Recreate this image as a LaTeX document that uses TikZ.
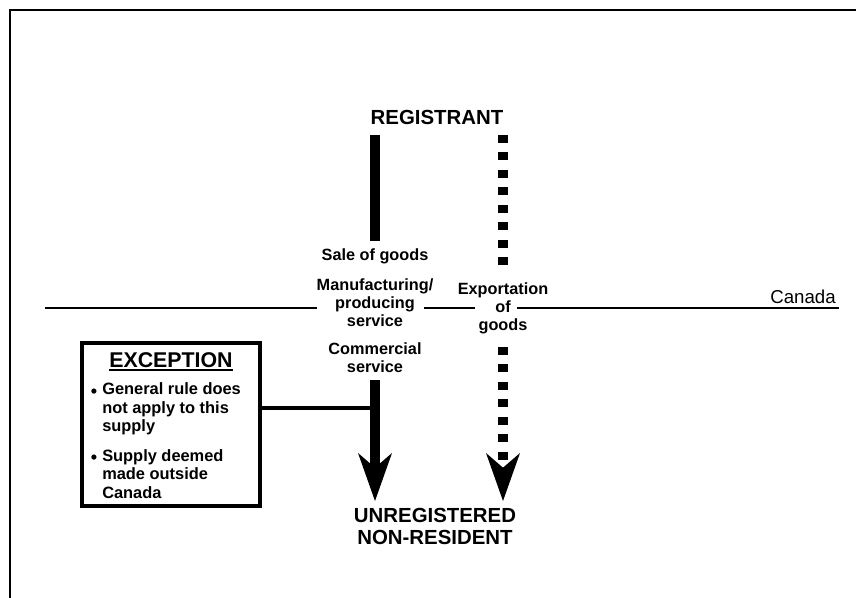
\documentclass[tikz,border=0pt]{standalone}
\usepackage{fontspec}
\setmainfont{Liberation Sans}
\usetikzlibrary{arrows.meta}
\begin{document}
\begin{tikzpicture}[x=0.75pt,y=-0.75pt,
  lbl/.style={font=\fontsize{12.2}{13.5}\selectfont\bfseries, align=center, inner sep=0pt},
  big/.style={font=\fontsize{15.3}{16.5}\selectfont\bfseries, align=center, inner sep=0pt},
  bul/.style={font=\fontsize{12.3}{13.9}\selectfont\bfseries, align=left, inner sep=0pt, anchor=west},
  dotmark/.style={font=\fontsize{13.5}{14}\selectfont\bfseries, inner sep=0pt, anchor=center},
  solidflow/.style={line width=7pt},
  dotflow/.style={line width=7.5pt, dash pattern=on 6pt off 7.1pt},
  bigtip/.style={-{Stealth[length=36pt,width=25.5pt,inset=11pt,line width=0pt]}},
  border/.style={line width=0.8pt},
  frameline/.style={line width=1.6pt},
]
\useasboundingbox (0,0) rectangle (856,598);
% frame (only top and left visible)
\draw[frameline] (10,598) -- (10,10) -- (856,10);

% Canada boundary
\draw[border] (45,308) -- (317,308);
\draw[border] (424,308) -- (475,308);
\draw[border] (517,308) -- (839,308);
\node[font=\fontsize{14}{16}\selectfont, inner sep=0pt, anchor=east] (can) at (836,297) {Canada};

% main nodes
\node[big] (reg) at (437,117) {REGISTRANT};
\node[lbl] (sale) at (375,256) {Sale of goods};
\node[lbl] (manu) at (375,303) {Manufacturing/\\producing\\service};
\node[lbl] (comm) at (375,358) {Commercial\\service};
\node[lbl] (exp) at (503,308) {Exportation\\of\\goods};
\node[big] (unreg) at (435,526) {UNREGISTERED\\NON-RESIDENT};

% connector end points
\coordinate (a1) at (375,135);
\coordinate (a2) at (375,241);
\coordinate (c1) at (375,380);
\coordinate (t1) at (375,501);
\coordinate (d1) at (503,135);
\coordinate (d2) at (503,266);
\coordinate (e1) at (503,347);
\coordinate (t2) at (503,501);
\coordinate (j) at (375,408);

% solid flow
\draw[solidflow] (a1) -- (a2);
\draw[solidflow, bigtip] (c1) -- (t1);
% dotted flow
\draw[dotflow] (d1) -- (d2);
\draw[dotflow, bigtip] (e1) -- (t2);

% exception box
\node[draw, line width=3pt, minimum width=133.5pt, minimum height=122.25pt, inner sep=0pt] (exc) at (171,424.5) {};
\node[font=\fontsize{16}{18}\selectfont\bfseries, inner sep=0pt] (title) at (171,360) {EXCEPTION};
\draw[line width=1.5pt] ([yshift=-2pt]title.base west) -- ([yshift=-2pt]title.base east);
\node[dotmark] (bul1) at (94,393) {•};
\node[bul] (b1) at (102,409) {General rule does\\not apply to this\\supply};
\node[dotmark] (bul2) at (94,459) {•};
\node[bul] (b2) at (102,474) {Supply deemed\\made outside\\Canada};

% exception link
\draw[line width=3.5pt] (exc.east |- j) -- (j);
\end{tikzpicture}
\end{document}
